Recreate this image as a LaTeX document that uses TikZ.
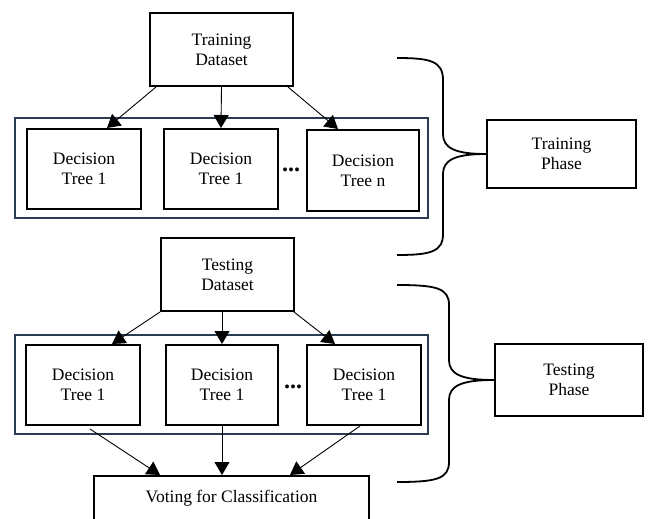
\documentclass[tikz,border=0pt]{standalone}
\usepackage{fontspec}
\setmainfont{Liberation Serif}
\usetikzlibrary{arrows.meta}
\definecolor{framecol}{HTML}{2A3B52}
\tikzset{
  box/.style={draw, line width=2pt, align=center, inner sep=0pt,
    font=\fontsize{17.5}{20}\selectfont},
  group/.style={draw=framecol, line width=1.8pt, inner sep=0pt},
  arr/.style={line width=0.9pt, -{Triangle[length=13pt,width=15pt]}},
  brace/.style={line width=1.8pt},
  dots/.style={inner sep=0pt, font=\fontsize{24}{26}\selectfont\bfseries},
}
\begin{document}
\begin{tikzpicture}[x=1pt, y=-1pt]
\useasboundingbox (0,0) rectangle (649,519);
% training part
\node[group, minimum width=413pt, minimum height=100pt] (trgrp) at (221.5,168) {};
\node[box, minimum width=143pt, minimum height=73pt] (trdata) at (221.5,49.5) {Training\\Dataset};
\node[box, minimum width=114pt, minimum height=80pt] (tra) at (84,169) {Decision\\Tree 1};
\node[box, minimum width=114pt, minimum height=80pt] (trb) at (221,169) {Decision\\Tree 1};
\node[box, minimum width=112pt, minimum height=81pt] (trc) at (363,170.5) {Decision\\Tree n};
\node[dots] (trdots) at (291,170) {...};
\draw[arr] ([xshift=7pt]trdata.south west) -- ([xshift=23pt]tra.north);
\draw[arr] (trdata.south) -- (trb.north);
\draw[arr] ([xshift=-6pt]trdata.south east) -- ([xshift=-25pt]trc.north);
% testing part
\node[group, minimum width=413pt, minimum height=99pt] (tsgrp) at (221.5,384.5) {};
\node[box, minimum width=133pt, minimum height=73pt] (tsdata) at (227.5,274.5) {Testing\\Dataset};
\node[box, minimum width=114pt, minimum height=80pt] (tsa) at (83,385) {Decision\\Tree 1};
\node[box, minimum width=112pt, minimum height=80pt] (tsb) at (222,385) {Decision\\Tree 1};
\node[box, minimum width=114pt, minimum height=80pt] (tsc) at (364,385) {Decision\\Tree 1};
\node[dots] (tsdots) at (293,387) {...};
\draw[arr] (tsdata.south west) -- ([xshift=29pt]tsa.north);
\draw[arr] (tsdata.south -| tsb.north) -- (tsb.north);
\draw[arr] ([xshift=-1pt]tsdata.south east) -- ([xshift=-29pt]tsc.north);
\node[box, minimum width=275pt, minimum height=44pt] (vote) at (231.5,498) {Voting for Classification};
\draw[arr] ([xshift=7pt,yshift=-3pt]tsa.south) -- ([xshift=-71.5pt]vote.north);
\draw[arr] (tsb.south) -- (tsb.south |- vote.north);
\draw[arr] ([xshift=-4pt]tsc.south) -- ([xshift=58.5pt]vote.north);
% phases
\node[box, minimum width=149pt, minimum height=68pt] (trphase) at (561.5,154) {Training\\Phase};
\node[box, minimum width=148pt, minimum height=72pt] (tsphase) at (569,380) {Testing\\Phase};
\draw[brace] (397,58) .. controls (430,58) and (443,61) .. (443,80) -- (443,134)
  .. controls (443,148) and (455,154) .. (trphase.west)
  .. controls (455,154) and (443,160) .. (443,174) -- (443,234)
  .. controls (443,252) and (430,255) .. (397,255);
\draw[brace] (397,285) .. controls (436,285) and (449,288) .. (449,305) -- (449,360)
  .. controls (449,374) and (461,380) .. (tsphase.west)
  .. controls (461,380) and (449,386) .. (449,400) -- (449,462)
  .. controls (449,479) and (436,482) .. (397,482);
\end{tikzpicture}
\end{document}
